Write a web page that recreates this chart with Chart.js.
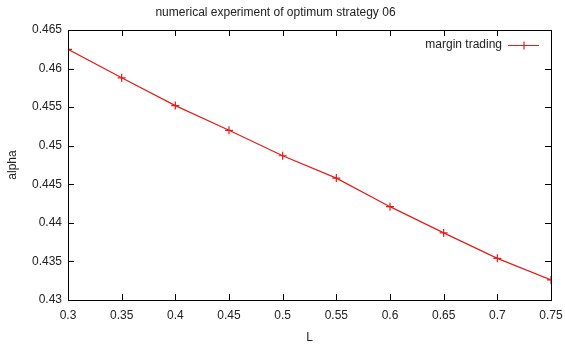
<!DOCTYPE html>
<html>
<head>
<meta charset="utf-8">
<script src="https://cdn.jsdelivr.net/npm/chart.js@4"></script>
<style>
  html, body { margin: 0; padding: 0; background: #fff; }
  #chart { display: block; }
</style>
</head>
<body>
<canvas id="chart"></canvas>
<script>
// data
const lValues = [0.3, 0.35, 0.4, 0.45, 0.5, 0.55, 0.6, 0.65, 0.7, 0.75];
const alphaValues = [0.4625, 0.4588, 0.4552, 0.452, 0.4487, 0.4458, 0.4421, 0.4387, 0.4354, 0.4326];
const xTickValues = [0.3, 0.35, 0.4, 0.45, 0.5, 0.55, 0.6, 0.65, 0.7, 0.75];
const xTickLabels = ["0.3", "0.35", "0.4", "0.45", "0.5", "0.55", "0.6", "0.65", "0.7", "0.75"];
const yTickValues = [0.43, 0.435, 0.44, 0.445, 0.45, 0.455, 0.46, 0.465];
const yTickLabels = ["0.43", "0.435", "0.44", "0.445", "0.45", "0.455", "0.46", "0.465"];
const seriesLabel = "margin trading";

document.addEventListener("DOMContentLoaded", function () {
  const canvas = document.getElementById("chart");
  canvas.width = 565;
  canvas.height = 347;
  const ctx = canvas.getContext("2d");

  const FONT = "'Liberation Sans', Arial, sans-serif";
  const TEXT = "#222";
  const RED = "rgb(226,28,28)";

  // gnuplot style: box border, ticks pointing inwards on all four sides, legend text left of sample
  const gnuplotFrame = {
    id: "gnuplotFrame",
    afterDraw(chart) {
      const { ctx, chartArea: a, scales } = chart;
      const t = 6;
      ctx.save();
      ctx.strokeStyle = "#000";
      ctx.lineWidth = 1;
      ctx.beginPath();
      scales.x.ticks.forEach((tk) => {
        const px = Math.round(scales.x.getPixelForValue(tk.value)) + 0.5;
        ctx.moveTo(px, a.bottom);
        ctx.lineTo(px, a.bottom - t);
        ctx.moveTo(px, a.top);
        ctx.lineTo(px, a.top + t);
      });
      scales.y.ticks.forEach((tk) => {
        const py = Math.round(scales.y.getPixelForValue(tk.value)) + 0.5;
        ctx.moveTo(a.left, py);
        ctx.lineTo(a.left + t, py);
        ctx.moveTo(a.right, py);
        ctx.lineTo(a.right - t, py);
      });
      ctx.stroke();
      ctx.strokeRect(Math.round(a.left) + 0.5, Math.round(a.top) + 0.5,
        Math.round(a.right - a.left), Math.round(a.bottom - a.top));

      // legend
      const ds = chart.data.datasets[0];
      const ly = a.top + 15;
      const x1 = a.right - 43, x2 = a.right - 12;
      ctx.font = "12px " + FONT;
      ctx.fillStyle = TEXT;
      ctx.textAlign = "right";
      ctx.textBaseline = "middle";
      ctx.fillText(ds.label, x1 - 6, ly);
      ctx.strokeStyle = ds.borderColor;
      ctx.lineWidth = 1.2;
      ctx.beginPath();
      ctx.moveTo(x1, ly + 0.5);
      ctx.lineTo(x2, ly + 0.5);
      const cx = Math.round((x1 + x2) / 2);
      ctx.moveTo(cx, ly - 3.5);
      ctx.lineTo(cx, ly + 4.5);
      ctx.stroke();
      ctx.restore();
    },
  };

  new Chart(ctx, {
    type: "line",
    data: {
      datasets: [
        {
          label: seriesLabel,
          data: lValues.map((x, i) => ({ x: x, y: alphaValues[i] })),
          borderColor: RED,
          backgroundColor: RED,
          borderWidth: 1.2,
          pointStyle: "cross",
          pointRadius: 4,
          pointBorderWidth: 1.2,
          pointBorderColor: RED,
          tension: 0,
          fill: false,
        },
      ],
    },
    options: {
      responsive: false,
      animation: false,
      layout: { padding: { left: 0, right: 14, top: 0, bottom: 0 } },
      scales: {
        x: {
          type: "linear",
          min: 0.3,
          max: 0.75,
          afterBuildTicks: (s) => { s.ticks = xTickValues.map((v) => ({ value: v })); },
          afterFit: (s) => { s.height = 47; s.paddingLeft = 0; s.paddingRight = 0; },
          ticks: {
            autoSkip: false,
            maxRotation: 0,
            padding: 8,
            color: TEXT,
            font: { family: FONT, size: 12 },
            callback: (v, i) => xTickLabels[i],
          },
          grid: { display: false, drawTicks: false },
          border: { display: false },
          title: {
            display: true,
            text: "L",
            color: TEXT,
            font: { family: FONT, size: 12 },
            padding: { top: 0, bottom: 2 },
          },
        },
        y: {
          type: "linear",
          min: 0.43,
          max: 0.465,
          afterBuildTicks: (s) => { s.ticks = yTickValues.map((v) => ({ value: v })); },
          afterFit: (s) => { s.width = 68; },
          ticks: {
            padding: 6,
            color: TEXT,
            font: { family: FONT, size: 12 },
            callback: (v, i) => yTickLabels[i],
          },
          grid: { display: false, drawTicks: false },
          border: { display: false },
          title: {
            display: true,
            text: "alpha",
            color: TEXT,
            font: { family: FONT, size: 12 },
            padding: { top: 5, bottom: 0 },
          },
        },
      },
      plugins: {
        legend: { display: false },
        tooltip: { enabled: false },
        title: {
          display: true,
          text: "numerical experiment of optimum strategy 06",
          color: TEXT,
          font: { family: FONT, size: 12, weight: "normal" },
          padding: { top: 5, bottom: 10.6 },
        },
      },
    },
    plugins: [gnuplotFrame],
  });
});
</script>
</body>
</html>
